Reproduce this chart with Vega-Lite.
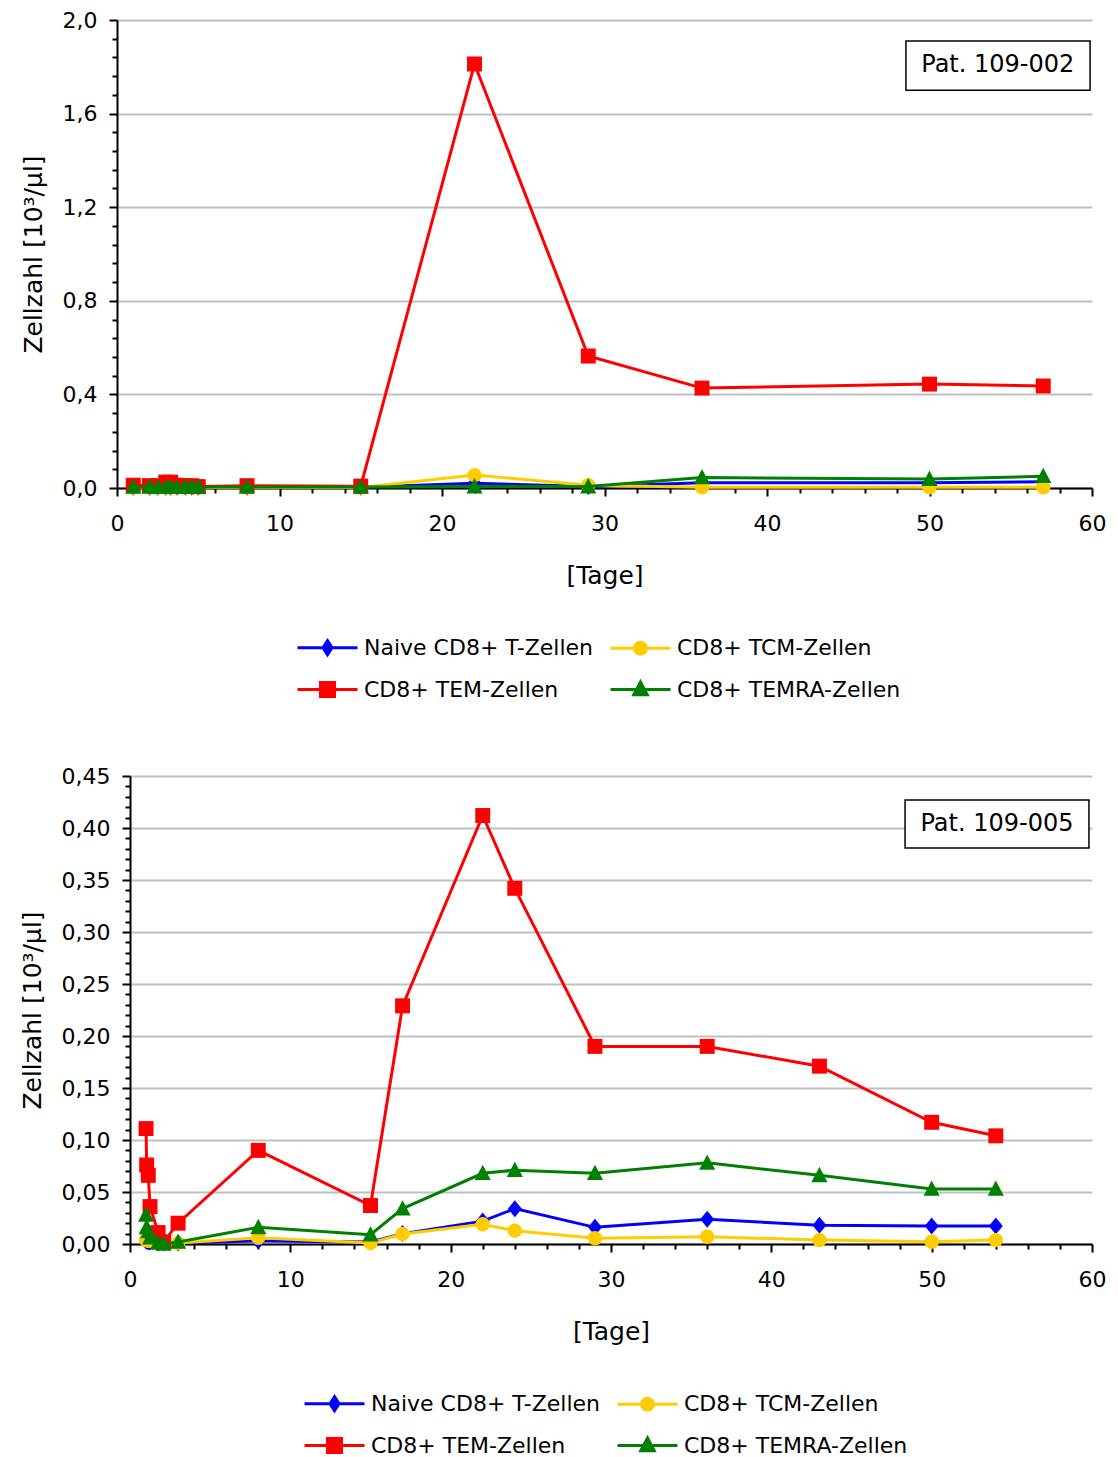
{
  "$schema": "https://vega.github.io/schema/vega-lite/v6.json",
  "padding": {"left": 20, "top": 9, "right": 0, "bottom": 0},
  "spacing": 62,
  "resolve": {"scale": {"fill": "independent", "stroke": "independent", "shape": "independent"}},
  "config": {
    "locale": {"number": {"decimal": ",", "thousands": ".", "grouping": [3], "currency": ["", " €"]}},
    "font": "DejaVu Sans",
    "view": {"stroke": null},
    "axis": {"domainColor": "#000000", "domainWidth": 2, "tickColor": "#000000", "tickWidth": 2, "labelFont": "DejaVu Sans", "labelFontSize": 22, "labelColor": "#000000", "titleFont": "DejaVu Sans", "titleFontSize": 25, "titleFontWeight": "normal", "titleColor": "#000000", "labelOverlap": false, "labelFlush": false},
    "axisX": {"grid": false, "labelPadding": 17, "titlePadding": 29},
    "axisY": {"gridColor": "#c0c0c0", "gridWidth": 2, "labelPadding": 12, "titlePadding": 16},
    "legend": {"columns": 2, "title": null, "labelFont": "DejaVu Sans", "labelFontSize": 22, "labelColor": "#000000", "labelLimit": 0, "symbolSize": 900, "symbolStrokeWidth": 3, "labelOffset": 20, "columnPadding": 11, "rowPadding": 12, "padding": 0}
  },
  "datasets": {
    "p002": [
      {"series": "Naive CD8+ T-Zellen", "day": 1, "value": 0.003},
      {"series": "Naive CD8+ T-Zellen", "day": 2, "value": 0.003},
      {"series": "Naive CD8+ T-Zellen", "day": 2.5, "value": 0.003},
      {"series": "Naive CD8+ T-Zellen", "day": 3, "value": 0.003},
      {"series": "Naive CD8+ T-Zellen", "day": 3.3, "value": 0.003},
      {"series": "Naive CD8+ T-Zellen", "day": 3.7, "value": 0.003},
      {"series": "Naive CD8+ T-Zellen", "day": 4.2, "value": 0.003},
      {"series": "Naive CD8+ T-Zellen", "day": 4.6, "value": 0.003},
      {"series": "Naive CD8+ T-Zellen", "day": 5, "value": 0.003},
      {"series": "Naive CD8+ T-Zellen", "day": 8, "value": 0.003},
      {"series": "Naive CD8+ T-Zellen", "day": 15, "value": 0.003},
      {"series": "Naive CD8+ T-Zellen", "day": 22, "value": 0.02},
      {"series": "Naive CD8+ T-Zellen", "day": 29, "value": 0.006},
      {"series": "Naive CD8+ T-Zellen", "day": 36, "value": 0.022},
      {"series": "Naive CD8+ T-Zellen", "day": 50, "value": 0.022},
      {"series": "Naive CD8+ T-Zellen", "day": 57, "value": 0.027},
      {"series": "CD8+ TCM-Zellen", "day": 1, "value": 0.002},
      {"series": "CD8+ TCM-Zellen", "day": 2, "value": 0.002},
      {"series": "CD8+ TCM-Zellen", "day": 2.5, "value": 0.002},
      {"series": "CD8+ TCM-Zellen", "day": 3, "value": 0.002},
      {"series": "CD8+ TCM-Zellen", "day": 3.3, "value": 0.002},
      {"series": "CD8+ TCM-Zellen", "day": 3.7, "value": 0.002},
      {"series": "CD8+ TCM-Zellen", "day": 4.2, "value": 0.002},
      {"series": "CD8+ TCM-Zellen", "day": 4.6, "value": 0.002},
      {"series": "CD8+ TCM-Zellen", "day": 5, "value": 0.002},
      {"series": "CD8+ TCM-Zellen", "day": 8, "value": 0.002},
      {"series": "CD8+ TCM-Zellen", "day": 15, "value": 0.002},
      {"series": "CD8+ TCM-Zellen", "day": 22, "value": 0.055},
      {"series": "CD8+ TCM-Zellen", "day": 29, "value": 0.012},
      {"series": "CD8+ TCM-Zellen", "day": 36, "value": 0.003},
      {"series": "CD8+ TCM-Zellen", "day": 50, "value": 0.003},
      {"series": "CD8+ TCM-Zellen", "day": 57, "value": 0.003},
      {"series": "CD8+ TEM-Zellen", "day": 1, "value": 0.012},
      {"series": "CD8+ TEM-Zellen", "day": 2, "value": 0.01},
      {"series": "CD8+ TEM-Zellen", "day": 2.5, "value": 0.01},
      {"series": "CD8+ TEM-Zellen", "day": 3, "value": 0.025},
      {"series": "CD8+ TEM-Zellen", "day": 3.3, "value": 0.025},
      {"series": "CD8+ TEM-Zellen", "day": 3.7, "value": 0.012},
      {"series": "CD8+ TEM-Zellen", "day": 4.2, "value": 0.01},
      {"series": "CD8+ TEM-Zellen", "day": 4.6, "value": 0.01},
      {"series": "CD8+ TEM-Zellen", "day": 5, "value": 0.006},
      {"series": "CD8+ TEM-Zellen", "day": 8, "value": 0.01},
      {"series": "CD8+ TEM-Zellen", "day": 15, "value": 0.008},
      {"series": "CD8+ TEM-Zellen", "day": 22, "value": 1.812},
      {"series": "CD8+ TEM-Zellen", "day": 29, "value": 0.564},
      {"series": "CD8+ TEM-Zellen", "day": 36, "value": 0.427},
      {"series": "CD8+ TEM-Zellen", "day": 50, "value": 0.444},
      {"series": "CD8+ TEM-Zellen", "day": 57, "value": 0.436},
      {"series": "CD8+ TEMRA-Zellen", "day": 1, "value": 0.004},
      {"series": "CD8+ TEMRA-Zellen", "day": 2, "value": 0.004},
      {"series": "CD8+ TEMRA-Zellen", "day": 2.5, "value": 0.004},
      {"series": "CD8+ TEMRA-Zellen", "day": 3, "value": 0.004},
      {"series": "CD8+ TEMRA-Zellen", "day": 3.3, "value": 0.004},
      {"series": "CD8+ TEMRA-Zellen", "day": 3.7, "value": 0.004},
      {"series": "CD8+ TEMRA-Zellen", "day": 4.2, "value": 0.004},
      {"series": "CD8+ TEMRA-Zellen", "day": 4.6, "value": 0.004},
      {"series": "CD8+ TEMRA-Zellen", "day": 5, "value": 0.004},
      {"series": "CD8+ TEMRA-Zellen", "day": 8, "value": 0.004},
      {"series": "CD8+ TEMRA-Zellen", "day": 15, "value": 0.004},
      {"series": "CD8+ TEMRA-Zellen", "day": 22, "value": 0.006},
      {"series": "CD8+ TEMRA-Zellen", "day": 29, "value": 0.006},
      {"series": "CD8+ TEMRA-Zellen", "day": 36, "value": 0.045},
      {"series": "CD8+ TEMRA-Zellen", "day": 50, "value": 0.038},
      {"series": "CD8+ TEMRA-Zellen", "day": 57, "value": 0.05}
    ],
    "p005": [
      {"series": "Naive CD8+ T-Zellen", "day": 1, "value": 0.003},
      {"series": "Naive CD8+ T-Zellen", "day": 1.04, "value": 0.003},
      {"series": "Naive CD8+ T-Zellen", "day": 1.14, "value": 0.002},
      {"series": "Naive CD8+ T-Zellen", "day": 1.25, "value": 0.002},
      {"series": "Naive CD8+ T-Zellen", "day": 1.75, "value": 0.001},
      {"series": "Naive CD8+ T-Zellen", "day": 2.1, "value": 0.001},
      {"series": "Naive CD8+ T-Zellen", "day": 3, "value": 0.001},
      {"series": "Naive CD8+ T-Zellen", "day": 8, "value": 0.003},
      {"series": "Naive CD8+ T-Zellen", "day": 15, "value": 0.002},
      {"series": "Naive CD8+ T-Zellen", "day": 17, "value": 0.01},
      {"series": "Naive CD8+ T-Zellen", "day": 22, "value": 0.022},
      {"series": "Naive CD8+ T-Zellen", "day": 24, "value": 0.034},
      {"series": "Naive CD8+ T-Zellen", "day": 29, "value": 0.016},
      {"series": "Naive CD8+ T-Zellen", "day": 36, "value": 0.0237},
      {"series": "Naive CD8+ T-Zellen", "day": 43, "value": 0.018},
      {"series": "Naive CD8+ T-Zellen", "day": 50, "value": 0.0173},
      {"series": "Naive CD8+ T-Zellen", "day": 54, "value": 0.0173},
      {"series": "CD8+ TCM-Zellen", "day": 1, "value": 0.004},
      {"series": "CD8+ TCM-Zellen", "day": 1.04, "value": 0.004},
      {"series": "CD8+ TCM-Zellen", "day": 1.14, "value": 0.003},
      {"series": "CD8+ TCM-Zellen", "day": 1.25, "value": 0.003},
      {"series": "CD8+ TCM-Zellen", "day": 1.75, "value": 0.002},
      {"series": "CD8+ TCM-Zellen", "day": 2.1, "value": 0.001},
      {"series": "CD8+ TCM-Zellen", "day": 3, "value": 0.001},
      {"series": "CD8+ TCM-Zellen", "day": 8, "value": 0.006},
      {"series": "CD8+ TCM-Zellen", "day": 15, "value": 0.001},
      {"series": "CD8+ TCM-Zellen", "day": 17, "value": 0.0096},
      {"series": "CD8+ TCM-Zellen", "day": 22, "value": 0.019},
      {"series": "CD8+ TCM-Zellen", "day": 24, "value": 0.0128},
      {"series": "CD8+ TCM-Zellen", "day": 29, "value": 0.0055},
      {"series": "CD8+ TCM-Zellen", "day": 36, "value": 0.007},
      {"series": "CD8+ TCM-Zellen", "day": 43, "value": 0.0038},
      {"series": "CD8+ TCM-Zellen", "day": 50, "value": 0.0022},
      {"series": "CD8+ TCM-Zellen", "day": 54, "value": 0.0038},
      {"series": "CD8+ TEM-Zellen", "day": 1, "value": 0.111},
      {"series": "CD8+ TEM-Zellen", "day": 1.04, "value": 0.076},
      {"series": "CD8+ TEM-Zellen", "day": 1.14, "value": 0.066},
      {"series": "CD8+ TEM-Zellen", "day": 1.25, "value": 0.036},
      {"series": "CD8+ TEM-Zellen", "day": 1.75, "value": 0.011},
      {"series": "CD8+ TEM-Zellen", "day": 2.1, "value": 0.002},
      {"series": "CD8+ TEM-Zellen", "day": 3, "value": 0.02},
      {"series": "CD8+ TEM-Zellen", "day": 8, "value": 0.09},
      {"series": "CD8+ TEM-Zellen", "day": 15, "value": 0.037},
      {"series": "CD8+ TEM-Zellen", "day": 17, "value": 0.229},
      {"series": "CD8+ TEM-Zellen", "day": 22, "value": 0.412},
      {"series": "CD8+ TEM-Zellen", "day": 24, "value": 0.342},
      {"series": "CD8+ TEM-Zellen", "day": 29, "value": 0.19},
      {"series": "CD8+ TEM-Zellen", "day": 36, "value": 0.19},
      {"series": "CD8+ TEM-Zellen", "day": 43, "value": 0.171},
      {"series": "CD8+ TEM-Zellen", "day": 50, "value": 0.117},
      {"series": "CD8+ TEM-Zellen", "day": 54, "value": 0.104},
      {"series": "CD8+ TEMRA-Zellen", "day": 1, "value": 0.028},
      {"series": "CD8+ TEMRA-Zellen", "day": 1.04, "value": 0.016},
      {"series": "CD8+ TEMRA-Zellen", "day": 1.14, "value": 0.012},
      {"series": "CD8+ TEMRA-Zellen", "day": 1.25, "value": 0.006},
      {"series": "CD8+ TEMRA-Zellen", "day": 1.75, "value": 0.001},
      {"series": "CD8+ TEMRA-Zellen", "day": 2.1, "value": 0},
      {"series": "CD8+ TEMRA-Zellen", "day": 3, "value": 0.002},
      {"series": "CD8+ TEMRA-Zellen", "day": 8, "value": 0.016},
      {"series": "CD8+ TEMRA-Zellen", "day": 15, "value": 0.009},
      {"series": "CD8+ TEMRA-Zellen", "day": 17, "value": 0.034},
      {"series": "CD8+ TEMRA-Zellen", "day": 22, "value": 0.068},
      {"series": "CD8+ TEMRA-Zellen", "day": 24, "value": 0.071},
      {"series": "CD8+ TEMRA-Zellen", "day": 29, "value": 0.068},
      {"series": "CD8+ TEMRA-Zellen", "day": 36, "value": 0.078},
      {"series": "CD8+ TEMRA-Zellen", "day": 43, "value": 0.066},
      {"series": "CD8+ TEMRA-Zellen", "day": 50, "value": 0.053},
      {"series": "CD8+ TEMRA-Zellen", "day": 54, "value": 0.053}
    ]
  },
  "vconcat": [
    {
      "width": 975,
      "height": 468,
      "layer": [
        {
          "data": {"name": "p002"},
          "encoding": {
            "x": {"field": "day", "type": "quantitative", "scale": {"domain": [0, 60], "nice": false},
              "axis": {"title": "[Tage]", "values": [0,2,4,6,8,10,12,14,16,18,20,22,24,26,28,30,32,34,36,38,40,42,44,46,48,50,52,54,56,58,60], "labelExpr": "datum.value % 10 === 0 ? datum.label : ''", "tickSize": {"condition": {"test": "datum.value % 10 === 0", "value": 8}, "value": 5}}},
            "y": {"field": "value", "type": "quantitative", "scale": {"domain": [0, 2], "nice": false},
              "axis": {"title": "Zellzahl [10³/µl]", "format": ".1f", "values": [0,0.08,0.16,0.24,0.32,0.4,0.48,0.56,0.64,0.72,0.8,0.88,0.96,1.04,1.12,1.2,1.28,1.36,1.44,1.52,1.6,1.68,1.76,1.84,1.92,2], "labelExpr": "abs(datum.value/0.4 - round(datum.value/0.4)) < 0.001 ? datum.label : ''", "tickSize": {"condition": {"test": "abs(datum.value/0.4 - round(datum.value/0.4)) < 0.001", "value": 8}, "value": 5}, "gridOpacity": {"condition": {"test": "abs(datum.value/0.4 - round(datum.value/0.4)) < 0.001", "value": 1}, "value": 0}}}
          },
          "layer": [
            {"transform": [{"filter": "datum.series === 'Naive CD8+ T-Zellen'"}], "mark": {"type": "line", "color": "#0000ff", "strokeWidth": 3, "point": {"filled": true, "opacity": 1, "color": "#0000ff", "size": 289, "shape": "M0,-1L0.82,0L0,1L-0.82,0Z"}}, "encoding": {}},
            {"transform": [{"filter": "datum.series === 'CD8+ TCM-Zellen'"}], "mark": {"type": "line", "color": "#ffcc00", "strokeWidth": 3, "point": {"filled": true, "opacity": 1, "color": "#ffcc00", "size": 289, "shape": "M0.85,0L0.785,0.325L0.601,0.601L0.325,0.785L0,0.85L-0.325,0.785L-0.601,0.601L-0.785,0.325L-0.85,0L-0.785,-0.325L-0.601,-0.601L-0.325,-0.785L0,-0.85L0.325,-0.785L0.601,-0.601L0.785,-0.325Z"}}, "encoding": {}},
            {"transform": [{"filter": "datum.series === 'CD8+ TEM-Zellen'"}], "mark": {"type": "line", "color": "#ff0000", "strokeWidth": 3, "point": {"filled": true, "opacity": 1, "color": "#ff0000", "size": 289, "shape": "M-0.88,-0.88H0.88V0.88H-0.88Z"}}, "encoding": {}},
            {"transform": [{"filter": "datum.series === 'CD8+ TEMRA-Zellen'"}], "mark": {"type": "line", "color": "#008000", "strokeWidth": 3, "point": {"filled": true, "opacity": 1, "color": "#008000", "size": 289, "shape": "M0,-1L0.95,0.8L-0.95,0.8Z"}}, "encoding": {}},
            {"transform": [{"filter": "datum.day < 0"}], "mark": {"type": "point", "filled": true, "opacity": 1},
              "encoding": {
                "fill": {"field": "series", "type": "nominal", "scale": {"domain": ["Naive CD8+ T-Zellen", "CD8+ TEM-Zellen", "CD8+ TCM-Zellen", "CD8+ TEMRA-Zellen"], "range": ["#0000ff", "#ff0000", "#ffcc00", "#008000"]}, "legend": {"orient": "none", "legendX": 194, "legendY": 611}},
                "stroke": {"field": "series", "type": "nominal", "scale": {"domain": ["Naive CD8+ T-Zellen", "CD8+ TEM-Zellen", "CD8+ TCM-Zellen", "CD8+ TEMRA-Zellen"], "range": ["#0000ff", "#ff0000", "#ffcc00", "#008000"]}, "legend": {"orient": "none", "legendX": 194, "legendY": 611}},
                "shape": {"field": "series", "type": "nominal", "scale": {"domain": ["Naive CD8+ T-Zellen", "CD8+ TEM-Zellen", "CD8+ TCM-Zellen", "CD8+ TEMRA-Zellen"], "range": ["M-2,0H2M0,-0.47L0.3,0L0,0.47L-0.3,0Z", "M-2,0H2M-0.47,-0.47H0.47V0.47H-0.47Z", "M-2,0H2M0.4,0L0.37,0.153L0.283,0.283L0.153,0.37L0,0.4L-0.153,0.37L-0.283,0.283L-0.37,0.153L-0.4,0L-0.37,-0.153L-0.283,-0.283L-0.153,-0.37L0,-0.4L0.153,-0.37L0.283,-0.283L0.37,-0.153Z", "M-2,0H2M0,-0.5L0.45,0.35L-0.45,0.35Z"]}, "legend": {"orient": "none", "legendX": 194, "legendY": 611}}
              }}
          ]
        },
        {"data": {"values": [{"label": "Pat. 109-002"}]}, "mark": {"type": "rect", "fill": "#ffffff", "stroke": "#000000", "strokeWidth": 1.5},
          "encoding": {
            "x": {"datum": 48.55, "type": "quantitative", "axis": {"title": "[Tage]", "values": [0,2,4,6,8,10,12,14,16,18,20,22,24,26,28,30,32,34,36,38,40,42,44,46,48,50,52,54,56,58,60], "labelExpr": "datum.value % 10 === 0 ? datum.label : ''", "tickSize": {"condition": {"test": "datum.value % 10 === 0", "value": 8}, "value": 5}}},
            "x2": {"datum": 59.88},
            "y": {"datum": 1.91, "type": "quantitative", "axis": {"title": "Zellzahl [10³/µl]", "format": ".1f", "values": [0,0.08,0.16,0.24,0.32,0.4,0.48,0.56,0.64,0.72,0.8,0.88,0.96,1.04,1.12,1.2,1.28,1.36,1.44,1.52,1.6,1.68,1.76,1.84,1.92,2], "labelExpr": "abs(datum.value/0.4 - round(datum.value/0.4)) < 0.001 ? datum.label : ''", "tickSize": {"condition": {"test": "abs(datum.value/0.4 - round(datum.value/0.4)) < 0.001", "value": 8}, "value": 5}, "gridOpacity": {"condition": {"test": "abs(datum.value/0.4 - round(datum.value/0.4)) < 0.001", "value": 1}, "value": 0}}},
            "y2": {"datum": 1.7}
          }},
        {"data": {"values": [{"label": "Pat. 109-002"}]}, "mark": {"type": "text", "font": "DejaVu Sans", "fontSize": 24, "color": "#000000"},
          "encoding": {
            "x": {"datum": 54.2, "type": "quantitative", "axis": {"title": "[Tage]", "values": [0,2,4,6,8,10,12,14,16,18,20,22,24,26,28,30,32,34,36,38,40,42,44,46,48,50,52,54,56,58,60], "labelExpr": "datum.value % 10 === 0 ? datum.label : ''", "tickSize": {"condition": {"test": "datum.value % 10 === 0", "value": 8}, "value": 5}}},
            "y": {"datum": 1.806, "type": "quantitative", "axis": {"title": "Zellzahl [10³/µl]", "format": ".1f", "values": [0,0.08,0.16,0.24,0.32,0.4,0.48,0.56,0.64,0.72,0.8,0.88,0.96,1.04,1.12,1.2,1.28,1.36,1.44,1.52,1.6,1.68,1.76,1.84,1.92,2], "labelExpr": "abs(datum.value/0.4 - round(datum.value/0.4)) < 0.001 ? datum.label : ''", "tickSize": {"condition": {"test": "abs(datum.value/0.4 - round(datum.value/0.4)) < 0.001", "value": 8}, "value": 5}, "gridOpacity": {"condition": {"test": "abs(datum.value/0.4 - round(datum.value/0.4)) < 0.001", "value": 1}, "value": 0}}},
            "text": {"field": "label", "type": "nominal"}
          }}
      ]
    },
    {
      "width": 975,
      "height": 468,
      "layer": [
        {
          "data": {"name": "p005"},
          "encoding": {
            "x": {"field": "day", "type": "quantitative", "scale": {"domain": [0, 60], "nice": false, "range": [13, 975]},
              "axis": {"title": "[Tage]", "values": [0,2,4,6,8,10,12,14,16,18,20,22,24,26,28,30,32,34,36,38,40,42,44,46,48,50,52,54,56,58,60], "labelExpr": "datum.value % 10 === 0 ? datum.label : ''", "tickSize": {"condition": {"test": "datum.value % 10 === 0", "value": 8}, "value": 5}}},
            "y": {"field": "value", "type": "quantitative", "scale": {"domain": [0, 0.45], "nice": false},
              "axis": {"title": "Zellzahl [10³/µl]", "offset": -13, "format": ".2f", "values": [0,0.01,0.02,0.03,0.04,0.05,0.06,0.07,0.08,0.09,0.1,0.11,0.12,0.13,0.14,0.15,0.16,0.17,0.18,0.19,0.2,0.21,0.22,0.23,0.24,0.25,0.26,0.27,0.28,0.29,0.3,0.31,0.32,0.33,0.34,0.35,0.36,0.37,0.38,0.39,0.4,0.41,0.42,0.43,0.44,0.45], "labelExpr": "abs(datum.value/0.05 - round(datum.value/0.05)) < 0.001 ? datum.label : ''", "tickSize": {"condition": {"test": "abs(datum.value/0.05 - round(datum.value/0.05)) < 0.001", "value": 8}, "value": 5}, "gridOpacity": {"condition": {"test": "abs(datum.value/0.05 - round(datum.value/0.05)) < 0.001", "value": 1}, "value": 0}}}
          },
          "layer": [
            {"transform": [{"filter": "datum.series === 'Naive CD8+ T-Zellen'"}], "mark": {"type": "line", "color": "#0000ff", "strokeWidth": 3, "point": {"filled": true, "opacity": 1, "color": "#0000ff", "size": 289, "shape": "M0,-1L0.82,0L0,1L-0.82,0Z"}}, "encoding": {}},
            {"transform": [{"filter": "datum.series === 'CD8+ TCM-Zellen'"}], "mark": {"type": "line", "color": "#ffcc00", "strokeWidth": 3, "point": {"filled": true, "opacity": 1, "color": "#ffcc00", "size": 289, "shape": "M0.85,0L0.785,0.325L0.601,0.601L0.325,0.785L0,0.85L-0.325,0.785L-0.601,0.601L-0.785,0.325L-0.85,0L-0.785,-0.325L-0.601,-0.601L-0.325,-0.785L0,-0.85L0.325,-0.785L0.601,-0.601L0.785,-0.325Z"}}, "encoding": {}},
            {"transform": [{"filter": "datum.series === 'CD8+ TEM-Zellen'"}], "mark": {"type": "line", "color": "#ff0000", "strokeWidth": 3, "point": {"filled": true, "opacity": 1, "color": "#ff0000", "size": 289, "shape": "M-0.88,-0.88H0.88V0.88H-0.88Z"}}, "encoding": {}},
            {"transform": [{"filter": "datum.series === 'CD8+ TEMRA-Zellen'"}], "mark": {"type": "line", "color": "#008000", "strokeWidth": 3, "point": {"filled": true, "opacity": 1, "color": "#008000", "size": 289, "shape": "M0,-1L0.95,0.8L-0.95,0.8Z"}}, "encoding": {}},
            {"transform": [{"filter": "datum.day < 0"}], "mark": {"type": "point", "filled": true, "opacity": 1},
              "encoding": {
                "fill": {"field": "series", "type": "nominal", "scale": {"domain": ["Naive CD8+ T-Zellen", "CD8+ TEM-Zellen", "CD8+ TCM-Zellen", "CD8+ TEMRA-Zellen"], "range": ["#0000ff", "#ff0000", "#ffcc00", "#008000"]}, "legend": {"orient": "none", "legendX": 201, "legendY": 611}},
                "stroke": {"field": "series", "type": "nominal", "scale": {"domain": ["Naive CD8+ T-Zellen", "CD8+ TEM-Zellen", "CD8+ TCM-Zellen", "CD8+ TEMRA-Zellen"], "range": ["#0000ff", "#ff0000", "#ffcc00", "#008000"]}, "legend": {"orient": "none", "legendX": 201, "legendY": 611}},
                "shape": {"field": "series", "type": "nominal", "scale": {"domain": ["Naive CD8+ T-Zellen", "CD8+ TEM-Zellen", "CD8+ TCM-Zellen", "CD8+ TEMRA-Zellen"], "range": ["M-2,0H2M0,-0.47L0.3,0L0,0.47L-0.3,0Z", "M-2,0H2M-0.47,-0.47H0.47V0.47H-0.47Z", "M-2,0H2M0.4,0L0.37,0.153L0.283,0.283L0.153,0.37L0,0.4L-0.153,0.37L-0.283,0.283L-0.37,0.153L-0.4,0L-0.37,-0.153L-0.283,-0.283L-0.153,-0.37L0,-0.4L0.153,-0.37L0.283,-0.283L0.37,-0.153Z", "M-2,0H2M0,-0.5L0.45,0.35L-0.45,0.35Z"]}, "legend": {"orient": "none", "legendX": 201, "legendY": 611}}
              }}
          ]
        },
        {"data": {"values": [{"label": "Pat. 109-005"}]}, "mark": {"type": "rect", "fill": "#ffffff", "stroke": "#000000", "strokeWidth": 1.5},
          "encoding": {
            "x": {"datum": 48.34, "type": "quantitative", "axis": {"title": "[Tage]", "values": [0,2,4,6,8,10,12,14,16,18,20,22,24,26,28,30,32,34,36,38,40,42,44,46,48,50,52,54,56,58,60], "labelExpr": "datum.value % 10 === 0 ? datum.label : ''", "tickSize": {"condition": {"test": "datum.value % 10 === 0", "value": 8}, "value": 5}}},
            "x2": {"datum": 59.81},
            "y": {"datum": 0.4269, "type": "quantitative", "axis": {"title": "Zellzahl [10³/µl]", "offset": -13, "format": ".2f", "values": [0,0.01,0.02,0.03,0.04,0.05,0.06,0.07,0.08,0.09,0.1,0.11,0.12,0.13,0.14,0.15,0.16,0.17,0.18,0.19,0.2,0.21,0.22,0.23,0.24,0.25,0.26,0.27,0.28,0.29,0.3,0.31,0.32,0.33,0.34,0.35,0.36,0.37,0.38,0.39,0.4,0.41,0.42,0.43,0.44,0.45], "labelExpr": "abs(datum.value/0.05 - round(datum.value/0.05)) < 0.001 ? datum.label : ''", "tickSize": {"condition": {"test": "abs(datum.value/0.05 - round(datum.value/0.05)) < 0.001", "value": 8}, "value": 5}, "gridOpacity": {"condition": {"test": "abs(datum.value/0.05 - round(datum.value/0.05)) < 0.001", "value": 1}, "value": 0}}},
            "y2": {"datum": 0.3808}
          }},
        {"data": {"values": [{"label": "Pat. 109-005"}]}, "mark": {"type": "text", "font": "DejaVu Sans", "fontSize": 24, "color": "#000000"},
          "encoding": {
            "x": {"datum": 54.07, "type": "quantitative", "axis": {"title": "[Tage]", "values": [0,2,4,6,8,10,12,14,16,18,20,22,24,26,28,30,32,34,36,38,40,42,44,46,48,50,52,54,56,58,60], "labelExpr": "datum.value % 10 === 0 ? datum.label : ''", "tickSize": {"condition": {"test": "datum.value % 10 === 0", "value": 8}, "value": 5}}},
            "y": {"datum": 0.4038, "type": "quantitative", "axis": {"title": "Zellzahl [10³/µl]", "offset": -13, "format": ".2f", "values": [0,0.01,0.02,0.03,0.04,0.05,0.06,0.07,0.08,0.09,0.1,0.11,0.12,0.13,0.14,0.15,0.16,0.17,0.18,0.19,0.2,0.21,0.22,0.23,0.24,0.25,0.26,0.27,0.28,0.29,0.3,0.31,0.32,0.33,0.34,0.35,0.36,0.37,0.38,0.39,0.4,0.41,0.42,0.43,0.44,0.45], "labelExpr": "abs(datum.value/0.05 - round(datum.value/0.05)) < 0.001 ? datum.label : ''", "tickSize": {"condition": {"test": "abs(datum.value/0.05 - round(datum.value/0.05)) < 0.001", "value": 8}, "value": 5}, "gridOpacity": {"condition": {"test": "abs(datum.value/0.05 - round(datum.value/0.05)) < 0.001", "value": 1}, "value": 0}}},
            "text": {"field": "label", "type": "nominal"}
          }}
      ]
    }
  ]
}
